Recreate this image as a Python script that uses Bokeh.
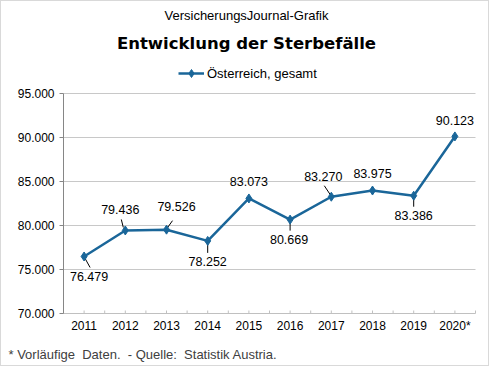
from bokeh.plotting import figure
from bokeh.models import (ColumnDataSource, LabelSet, Label, Legend, LegendItem, Range1d)
from bokeh.core.properties import value
from bokeh.embed import file_html
from bokeh.resources import INLINE

# ---- data ----
years = ["2011", "2012", "2013", "2014", "2015", "2016", "2017", "2018", "2019", "2020*"]
deaths = [76479, 79436, 79526, 78252, 83073, 80669, 83270, 83975, 83386, 90123]
y_ticks = [70000, 75000, 80000, 85000, 90000, 95000]

# ---- label placement (pixels, up positive) ----
label_dx = [5, -5, 10, 0, 0, -1, -8, 0, 0, 0]
label_dy = [-20, 21, 23, -21, 17, -20, 20, 17, -20, 16]
# leader lines: pixel offsets from the point (x right, y down)
leaders = [(1, 2, 6, 11), (-2, -3, -4, -11), (1, -2, 6, -9), (0, 3, 0, 12), None,
           (0, 2, 0, 11), (-1, -2, -7, -11), None, (0, 2, 0, 11), None]

# ---- layout (canvas pixels) ----
W, H = 489, 366
P_LEFT, P_RIGHT, P_TOP, P_BOTTOM = 62, 474, 92, 312   # value/category area
Y0, Y1 = 70000, 95000
N = len(years)
px_x = (P_RIGHT - P_LEFT) / N
px_y = (P_BOTTOM - P_TOP) / (Y1 - Y0)
X_START = 0.5 - P_LEFT / px_x
X_END = N + 0.5 + (W - P_RIGHT) / px_x
Y_START = Y0 - (H - P_BOTTOM) / px_y
Y_END = Y1 + P_TOP / px_y
XL, XR = 0.5, N + 0.5

FONT = "Liberation Sans"
BLUE = "#1a6699"
AXIS_GRAY = "#868686"
LIGHT_GRAY = "#c0c0c0"
GRID_GRAY = "#c8c8c8"

xs = list(range(1, N + 1))
fmt = lambda v: f"{v:,}".replace(",", ".")

p = figure(width=W, height=H, output_backend="svg", toolbar_location=None,
           title=None, x_range=Range1d(X_START, X_END), y_range=Range1d(Y_START, Y_END),
           x_axis_location=None, y_axis_location=None, min_border=0)
p.styles = {"border": "1px solid #d9d9d9"}
p.outline_line_color = None
p.grid.visible = False
p.background_fill_color = "white"
p.border_fill_color = "white"

# grid lines
grid_y = y_ticks[1:]
p.segment([XL] * len(grid_y), grid_y, [XR] * len(grid_y), grid_y,
          line_color=GRID_GRAY, line_width=1)

# category axis: line, ticks (centres and boundaries, pointing up), labels
p.segment([XL], [Y0], [XR], [Y0], line_color=LIGHT_GRAY, line_width=1)
xt = [x / 2 for x in range(1, 2 * N + 2)]
p.segment(xt, [Y0] * len(xt), xt, [Y0 + 3 / px_y] * len(xt),
          line_color=LIGHT_GRAY, line_width=1)
xsrc = ColumnDataSource(dict(x=xs, y=[Y0] * N, t=years))
p.add_layout(LabelSet(x="x", y="y", text="t", source=xsrc, y_offset=-12,
                      text_align="center", text_baseline="middle",
                      text_font=value(FONT), text_font_size="12px", text_color="black"))

# value axis: line, ticks, labels
p.segment([XL], [Y0], [XL], [Y1], line_color=AXIS_GRAY, line_width=1)
p.segment([XL - 4 / px_x] * len(y_ticks), y_ticks, [XL] * len(y_ticks), y_ticks,
          line_color=AXIS_GRAY, line_width=1)
ysrc = ColumnDataSource(dict(x=[XL] * len(y_ticks), y=y_ticks, t=[fmt(t) for t in y_ticks]))
p.add_layout(LabelSet(x="x", y="y", text="t", source=ysrc, x_offset=-9,
                      text_align="right", text_baseline="middle",
                      text_font=value(FONT), text_font_size="12px", text_color="black"))

# leader lines
lx0, ly0, lx1, ly1 = [], [], [], []
for x, v, ld in zip(xs, deaths, leaders):
    if ld is None:
        continue
    lx0.append(x + ld[0] / px_x)
    ly0.append(v - ld[1] / px_y)
    lx1.append(x + ld[2] / px_x)
    ly1.append(v - ld[3] / px_y)
p.segment(lx0, ly0, lx1, ly1, line_color="black", line_width=1)

# series
src = ColumnDataSource(dict(x=xs, y=deaths, txt=[fmt(v) for v in deaths],
                            dx=label_dx, dy=label_dy))
line = p.line("x", "y", source=src, line_color=BLUE, line_width=2.5)
pts = p.scatter("x", "y", source=src, marker="diamond", size=9,
                fill_color=BLUE, line_color=BLUE)
p.add_layout(LabelSet(x="x", y="y", text="txt", source=src, x_offset="dx", y_offset="dy",
                      text_align="center", text_baseline="middle",
                      text_font=value(FONT), text_font_size="12.5px", text_color="black"))

# legend
legend = Legend(items=[LegendItem(label="Österreich, gesamt", renderers=[line, pts])],
                location=(177, H - 72 - 10), orientation="horizontal",
                glyph_width=26, glyph_height=20, label_height=20, label_standoff=3,
                padding=0, margin=0, border_line_color=None, background_fill_alpha=0,
                label_text_font=FONT, label_text_font_size="13px",
                label_text_color="black")
p.add_layout(legend)

# titles / footnote (screen units, origin bottom-left of the canvas)
p.add_layout(Label(x=245, y=H - 14, x_units="screen", y_units="screen",
                   text="VersicherungsJournal-Grafik", text_align="center",
                   text_baseline="middle", text_font=FONT,
                   text_font_size="13px", text_color="black"))
p.add_layout(Label(x=245, y=H - 42, x_units="screen", y_units="screen",
                   text="Entwicklung der Sterbefälle", text_align="center",
                   text_baseline="middle", text_font="DejaVu Sans",
                   text_font_style="bold", text_font_size="16.5px",
                   text_color="black"))
p.add_layout(Label(x=7, y=H - 353, x_units="screen", y_units="screen",
                   text="* Vorläufige\u00a0 Daten.\u00a0 - Quelle:\u00a0 Statistik Austria.",
                   text_align="left", text_baseline="middle",
                   text_font=FONT, text_font_size="13px",
                   text_color="#404040"))

open("out.html", "w").write(file_html(p, INLINE))
